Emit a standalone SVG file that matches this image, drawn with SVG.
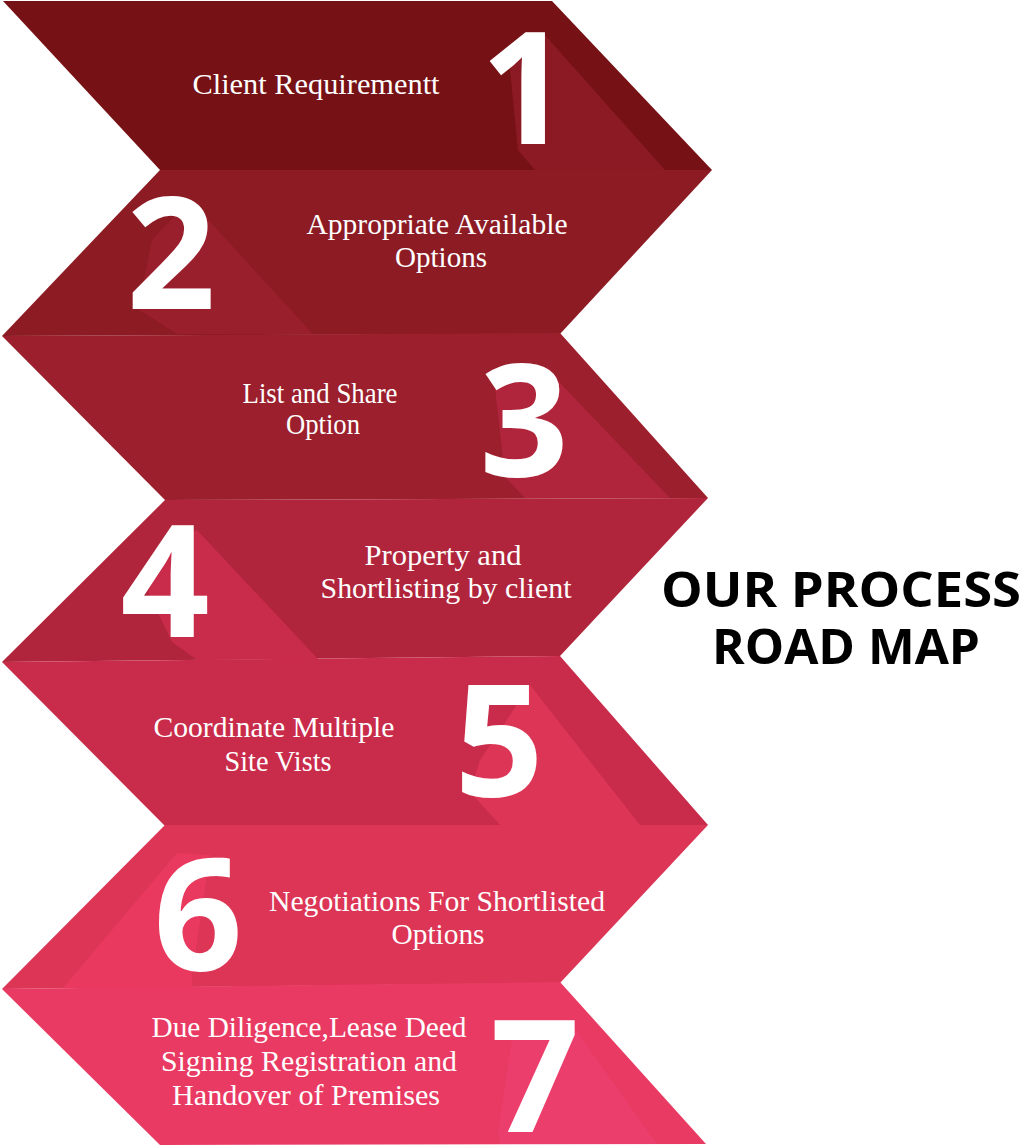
<svg xmlns="http://www.w3.org/2000/svg" width="1024" height="1146" viewBox="0 0 1024 1146">
<style>
.lbl{font-family:"Liberation Serif","Times New Roman",serif;font-size:29px;fill:#ffffff;text-anchor:middle}
.num{font-family:"Open Sans","DejaVu Sans",sans-serif;font-weight:700;font-size:156px;fill:#ffffff;text-anchor:middle}
.title{font-family:"Open Sans","DejaVu Sans",sans-serif;font-weight:700;font-size:49px;fill:#000000;text-anchor:middle}
</style>
<rect width="1024" height="1146" fill="#ffffff"/>
<g id="step1">
<polygon points="3,1 552,1 712,170 160,170" fill="#761115"/>
<polygon points="519,36 543,33 665,170 535,170 518,150 510,70" fill="#8b1a24"/>
<text class="num" x="525" y="144">1</text>
<text class="lbl" x="316" y="94" textLength="247" lengthAdjust="spacingAndGlyphs">Client Requirementt</text>
</g>
<g id="step2">
<polygon points="160,170 712,170 560,334 2,336" fill="#8c1b24"/>
<polygon points="190,200 313,334 177,334 138,309 152,240" fill="#9a1f2d"/>
<text class="num" x="171" y="309">2</text>
<text class="lbl" x="437" y="234" textLength="261" lengthAdjust="spacingAndGlyphs">Appropriate Available</text>
<text class="lbl" x="441" y="267" textLength="92" lengthAdjust="spacingAndGlyphs">Options</text>
</g>
<g id="step3">
<polygon points="2,336 560,333 708,498 165,500" fill="#9b1f2d"/>
<polygon points="548,367 562,385 670,498 525,498 505,477 495,388" fill="#b0253b"/>
<text class="num" x="524" y="476">3</text>
<text class="lbl" x="320" y="403" textLength="155" lengthAdjust="spacingAndGlyphs">List and Share</text>
<text class="lbl" x="323" y="434" textLength="74" lengthAdjust="spacingAndGlyphs">Option</text>
</g>
<g id="step4">
<polygon points="165,500 708,498 560,656 2,662" fill="#b0253b"/>
<polygon points="170,540 197,530 318,659 197,660 172,642 148,592" fill="#c92b4a"/>
<text class="num" x="165" y="637">4</text>
<text class="lbl" x="443" y="565" textLength="157" lengthAdjust="spacingAndGlyphs">Property and</text>
<text class="lbl" x="446" y="598" textLength="251" lengthAdjust="spacingAndGlyphs">Shortlisting by client</text>
</g>
<g id="step5">
<polygon points="2,662 560,656 708,825 165,826" fill="#c92b4a"/>
<polygon points="530,685 640,825 500,825 470,792 480,760" fill="#dc3556"/>
<text class="num" x="499" y="796">5</text>
<text class="lbl" x="274" y="737" textLength="241" lengthAdjust="spacingAndGlyphs">Coordinate Multiple</text>
<text class="lbl" x="278" y="771" textLength="107" lengthAdjust="spacingAndGlyphs">Site Vists</text>
</g>
<g id="step6">
<polygon points="165,825 708,825 560,983 2,989" fill="#dc3556"/>
<polygon points="177,853 210,855 192,975 192,988 63,988" fill="#e9395f"/>
<text class="num" x="198" y="970">6</text>
<text class="lbl" x="437" y="911" textLength="336" lengthAdjust="spacingAndGlyphs">Negotiations For Shortlisted</text>
<text class="lbl" x="438" y="944" textLength="93" lengthAdjust="spacingAndGlyphs">Options</text>
</g>
<g id="step7">
<polygon points="2,989 560,982 706,1144 160,1145" fill="#e83a62"/>
<polygon points="570,1022 657,1144 500,1144 498,1132 512,1040" fill="#ec3e6d"/>
<text class="num" x="535" y="1132">7</text>
<text class="lbl" x="309" y="1037" textLength="315" lengthAdjust="spacingAndGlyphs">Due Diligence,Lease Deed</text>
<text class="lbl" x="309" y="1071" textLength="296" lengthAdjust="spacingAndGlyphs">Signing Registration and</text>
<text class="lbl" x="306" y="1105" textLength="268" lengthAdjust="spacingAndGlyphs">Handover of Premises</text>
</g>
<g id="title">
<text class="title" x="841" y="607" textLength="360" lengthAdjust="spacingAndGlyphs">OUR PROCESS</text>
<text class="title" x="846" y="664" textLength="268" lengthAdjust="spacingAndGlyphs">ROAD MAP</text>
</g>
<g id="connectors"></g>
</svg>
